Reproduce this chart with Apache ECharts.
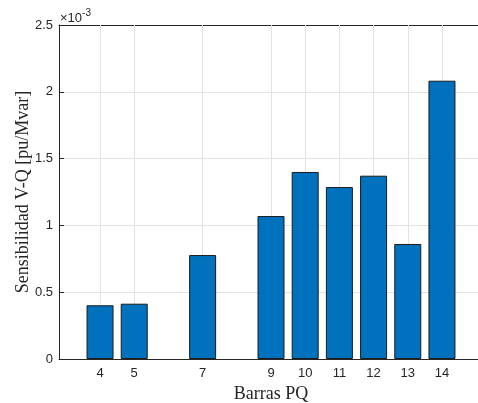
<!DOCTYPE html>
<html><head><meta charset="utf-8">
<script src="https://cdn.jsdelivr.net/npm/echarts@6/dist/echarts.min.js"></script>
<style>html,body{margin:0;padding:0;background:#fff}#c{width:478px;height:403px}</style>
</head><body><div id="c"></div>
<script>
// Data (values shown in units of 1e-3 pu/Mvar)
const categories = [4, 5, 7, 9, 10, 11, 12, 13, 14];
const sensitivity = [0.402, 0.414, 0.778, 1.070, 1.400, 1.287, 1.372, 0.861, 2.083];
const xTicks = [4, 5, 7, 9, 10, 11, 12, 13, 14];
const yTicks = [0, 0.5, 1, 1.5, 2, 2.5];

const chart = echarts.init(document.getElementById('c'), null, {renderer: 'canvas'});
const axisColor = '#262626';
const gridColor = '#e3e3e3';
const sans = 'Liberation Sans, Arial, Helvetica, sans-serif';
const serif = 'Liberation Serif, Times New Roman, serif';

chart.setOption({
  animation: false,
  backgroundColor: '#fff',
  grid: {left: 59, top: 25, right: -5, bottom: 44, containLabel: false, outerBoundsMode: 'none'},
  xAxis: [{
    type: 'value', min: 2.8, max: 15.2, position: 'bottom',
    axisLine: {show: true, onZero: false, lineStyle: {color: axisColor, width: 1}},
    axisTick: {show: true, inside: true, length: 5, customValues: xTicks, lineStyle: {color: axisColor}},
    axisLabel: {show: true, customValues: xTicks, color: axisColor, fontSize: 13, fontFamily: sans, margin: 8},
    splitLine: {show: false},
    name: 'Barras PQ', nameLocation: 'middle', nameGap: 26,
    nameTextStyle: {color: axisColor, fontSize: 18, fontFamily: serif}
  }, {
    type: 'value', min: 2.8, max: 15.2, position: 'top',
    axisLine: {show: true, onZero: false, lineStyle: {color: axisColor, width: 1}},
    axisTick: {show: true, inside: true, length: 5, customValues: xTicks, lineStyle: {color: axisColor}},
    axisLabel: {show: false},
    splitLine: {show: false}
  }],
  yAxis: [{
    type: 'value', min: 0, max: 2.5, interval: 0.5,
    axisLine: {show: true, lineStyle: {color: axisColor, width: 1}},
    axisTick: {show: true, inside: true, length: 5, lineStyle: {color: axisColor}},
    axisLabel: {color: axisColor, fontSize: 13, fontFamily: sans, margin: 6,
      formatter: v => String(parseFloat(v.toFixed(3)))},
    splitLine: {show: true, lineStyle: {color: gridColor, width: 1}},
    name: 'Sensibilidad V-Q [pu/Mvar]', nameLocation: 'middle', nameGap: 27, nameMoveOverlap: false,
    nameTextStyle: {color: axisColor, fontSize: 18, fontFamily: serif}
  }],
  graphic: [{
    type: 'text', left: 60, top: 8,
    style: {
      text: '{a|×10}{b|-3}',
      rich: {
        a: {fontSize: 13, fontFamily: sans, fill: axisColor, verticalAlign: 'bottom'},
        b: {fontSize: 10, fontFamily: sans, fill: axisColor, verticalAlign: 'top', padding: [0, 0, 7, 0]}
      }
    }
  }],
  series: [{
    type: 'bar',
    xAxisIndex: 0, yAxisIndex: 0,
    data: categories.map((c, i) => [c, sensitivity[i]]),
    barWidth: 27,
    itemStyle: {color: '#0072BD', borderColor: '#1a1a1a', borderWidth: 1},
    z: 3,
    markLine: {
      silent: true, symbol: 'none', z: 1, animation: false,
      label: {show: false},
      lineStyle: {color: gridColor, type: 'solid', width: 1},
      data: xTicks.map(t => ({xAxis: t}))
    }
  }]
});
</script></body></html>
